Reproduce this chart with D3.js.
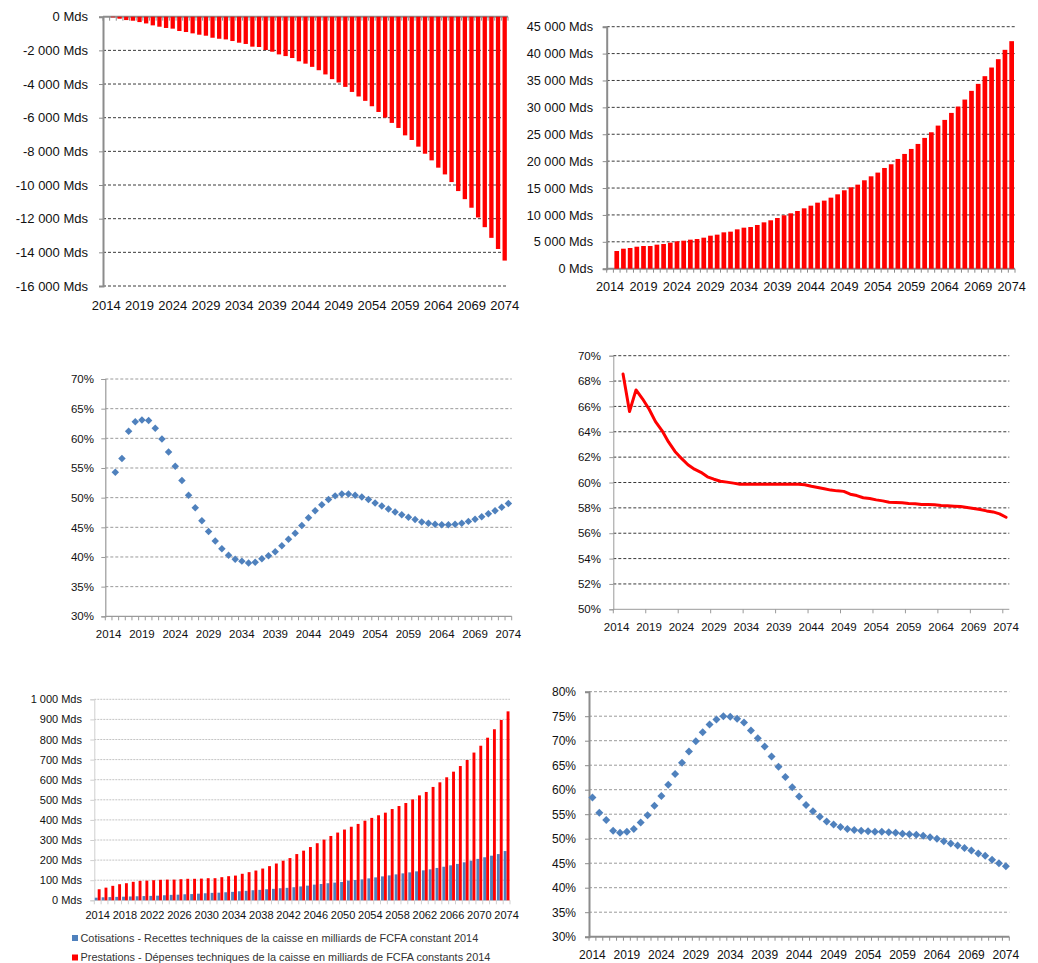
<!DOCTYPE html>
<html>
<head>
<meta charset="utf-8">
<script src="https://cdn.jsdelivr.net/npm/d3@7"></script>
<style>
  html, body { margin: 0; padding: 0; background: #fff; }
  svg { display: block; font-family: "Liberation Sans", Arial, sans-serif; }
</style>
</head>
<body>
<svg id="chart" width="1038" height="963"></svg>
<script>
// ---- categories ----
const years = d3.range(2014, 2075);
const labelYears5 = [2014, 2019, 2024, 2029, 2034, 2039, 2044, 2049, 2054, 2059, 2064, 2069, 2074];
const labelYears4 = [2014, 2018, 2022, 2026, 2030, 2034, 2038, 2042, 2046, 2050, 2054, 2058, 2062, 2066, 2070, 2074];

// ---- series (milliards FCFA / %) ----
const soldeCumule = [0, -40, -120, -200, -240, -320, -400, -515, -595, -670, -710, -850, -910, -990, -1070,
  -1130, -1250, -1310, -1350, -1445, -1545, -1620, -1780, -1800, -1980, -2080, -2240, -2340, -2455, -2650,
  -2790, -2980, -3180, -3430, -3710, -3910, -4170, -4470, -4740, -5000, -5320, -5660, -5995, -6310, -6610,
  -7050, -7325, -7720, -8140, -8535, -8970, -9370, -9825, -10360, -10840, -11350, -11930, -12505, -13140,
  -13800, -14490];

const montantCumule = [null, 3290, 3720, 3850, 4090, 4220, 4220, 4470, 4590, 4840, 5090, 5210, 5400, 5520,
  5770, 6140, 6330, 6760, 6890, 7320, 7630, 7750, 8130, 8620, 9000, 9430, 9930, 10300, 10730, 11230, 11720,
  12280, 12660, 13210, 13830, 14580, 15140, 15630, 16440, 17180, 17870, 18730, 19420, 20410, 21340, 22270,
  23200, 24320, 25370, 26610, 27670, 28970, 30150, 31450, 33070, 34370, 35800, 37410, 38960, 40700, 42310];

const ratioA = [null, 54.3, 56.6, 61.2, 62.8, 63.1, 63.0, 61.7, 59.9, 57.7, 55.3, 52.9, 50.4, 48.3, 46.1, 44.3,
  42.7, 41.4, 40.3, 39.6, 39.3, 39.0, 39.1, 39.7, 40.2, 40.9, 41.9, 43.0, 44.0, 45.3, 46.6, 47.8, 48.8, 49.7,
  50.3, 50.6, 50.6, 50.4, 50.1, 49.7, 49.1, 48.6, 48.1, 47.6, 47.1, 46.7, 46.3, 45.9, 45.7, 45.5, 45.45, 45.45,
  45.5, 45.7, 46.0, 46.35, 46.8, 47.3, 47.8, 48.4, 49.0];

const tauxRemplacement = [null, 68.55, 65.6, 67.3, 66.6, 65.8, 64.8, 64.1, 63.2, 62.45, 61.9, 61.4, 61.05, 60.8,
  60.45, 60.26, 60.1, 60.03, 59.95, 59.87, 59.87, 59.87, 59.87, 59.87, 59.87, 59.87, 59.87, 59.87, 59.87, 59.82,
  59.7, 59.6, 59.5, 59.4, 59.34, 59.3, 59.08, 58.97, 58.8, 58.74, 58.63, 58.55, 58.45, 58.42, 58.4, 58.34, 58.32,
  58.26, 58.26, 58.24, 58.18, 58.16, 58.13, 58.1, 58.03, 57.95, 57.87, 57.76, 57.68, 57.53, 57.26];

const cotisations = [13, 15, 16, 17, 18, 19, 20, 21, 22, 23, 25, 27, 28, 30, 31, 33, 35, 37, 38, 40, 42, 45, 47,
  50, 52, 55, 57, 60, 62, 65, 69, 73, 78, 81, 85, 88, 91, 98, 101, 104, 109, 114, 119, 124, 129, 134, 139, 144,
  149, 154, 161, 167, 174, 181, 189, 197, 206, 214, 222, 230, 245];

const prestations = [55, 63, 72, 80, 85, 92, 97, 98, 100, 102, 103, 103, 105, 107, 107, 108, 110, 110, 115, 120,
  123, 132, 140, 148, 158, 170, 183, 197, 210, 230, 247, 265, 284, 302, 320, 337, 352, 366, 380, 396, 410, 423,
  436, 454, 469, 484, 502, 522, 539, 564, 587, 612, 640, 668, 698, 735, 769, 809, 851, 897, 940];

const ratioB = [58.4, 55.3, 53.8, 51.6, 51.2, 51.4, 52.0, 53.3, 54.8, 56.7, 58.7, 61.0, 63.2, 65.5, 67.8, 69.9,
  71.7, 73.3, 74.35, 74.97, 74.9, 74.5, 73.7, 72.1, 70.5, 68.8, 66.8, 64.7, 62.6, 60.5, 58.6, 56.9, 55.6, 54.5,
  53.5, 52.9, 52.4, 52.0, 51.8, 51.6, 51.5, 51.4, 51.4, 51.3, 51.2, 51.0, 50.9, 50.8, 50.6, 50.3, 50.0, 49.5,
  49.0, 48.6, 48.1, 47.6, 47.0, 46.5, 45.7, 45.0, 44.4];

// ---- tick values ----
const ticksSolde = [0, -2000, -4000, -6000, -8000, -10000, -12000, -14000, -16000];
const ticksMontant = [0, 5000, 10000, 15000, 20000, 25000, 30000, 35000, 40000, 45000];
const ticksRatioA = [30, 35, 40, 45, 50, 55, 60, 65, 70];
const ticksTaux = [50, 52, 54, 56, 58, 60, 62, 64, 66, 68, 70];
const ticksFlux = [0, 100, 200, 300, 400, 500, 600, 700, 800, 900, 1000];
const ticksRatioB = [30, 35, 40, 45, 50, 55, 60, 65, 70, 75, 80];

const legendItems = [
  { label: "Cotisations - Recettes techniques de la caisse en milliards de FCFA constant 2014", color: "#4F81BD" },
  { label: "Prestations - Dépenses techniques de la caisse en milliards de FCFA constants 2014", color: "#FF0000" }
];

// ---- formatting ----
const fr = d3.formatLocale({ decimal: ",", thousands: " ", grouping: [3], currency: ["", ""], minus: "-" });
const fmtMds = d => fr.format(",")(d) + " Mds";
const fmtPct = d => d + "%";

const RED = "#FF0000", BLUE = "#4F81BD", TXT = "#111";
const svg = d3.select("#chart");
svg.append("rect").attr("width", 1038).attr("height", 963).attr("fill", "#fff");

// Builds the scales, gridlines, axes and category labels of one panel
function panel(o) {
  const g = svg.append("g");
  const x = d3.scaleBand().domain(years).range([o.left, o.right])
    .paddingInner(o.pad || 0).paddingOuter((o.pad || 0) / 2);
  const y = d3.scaleLinear().domain(o.yDomain).range([o.bottom, o.top]);
  const cx = d => x(d) + x.bandwidth() / 2;

  // horizontal gridlines
  g.append("g").selectAll("line").data(o.grid).join("line")
    .attr("x1", o.left).attr("x2", o.right)
    .attr("y1", d => y(d)).attr("y2", d => y(d))
    .attr("stroke", o.gridColor).attr("stroke-width", 1)
    .attr("stroke-dasharray", o.gridDash);

  // value axis
  const ya = g.append("g").attr("transform", `translate(${o.left},0)`)
    .call(d3.axisLeft(y).tickValues(o.yTicks).tickFormat(o.fmt).tickSize(4).tickPadding(o.yPad));
  ya.select(".domain").attr("stroke", o.axisColor).attr("stroke-width", o.axisWidth);
  ya.selectAll(".tick line").attr("stroke", o.axisColor);
  ya.selectAll("text").attr("fill", TXT).style("font-size", o.fs + "px");

  // category axis line and boundary ticks
  const ay = y(o.axisAt);
  g.append("line").attr("x1", o.left).attr("x2", o.right).attr("y1", ay).attr("y2", ay)
    .attr("stroke", o.axisColor).attr("stroke-width", o.axisWidth);
  const step = x.step();
  const bounds = d3.range(0, years.length + 1, o.tickEvery).map(i => o.left + i * step);
  g.append("g").selectAll("line").data(bounds).join("line")
    .attr("x1", d => d).attr("x2", d => d).attr("y1", ay).attr("y2", ay + 4)
    .attr("stroke", o.axisColor).attr("stroke-width", 1);

  // category labels
  const xa = g.append("g").attr("transform", `translate(0,${o.labelY - 0.35 * o.fs})`)
    .call(d3.axisBottom(x).tickValues(o.labels).tickSize(0).tickPadding(0));
  xa.select(".domain").remove();
  xa.selectAll("text").attr("fill", TXT).style("font-size", o.fs + "px");

  return { g, x, y, cx };
}

// ---- top left: cumulative balance ----
{
  const p = panel({ left: 103, right: 508, top: 16.7, bottom: 286, yDomain: [-16000, 0], pad: 0.35,
    grid: ticksSolde.filter(d => d !== 0), gridColor: "#3a3a3a", gridDash: "3,2",
    yTicks: ticksSolde, fmt: fmtMds, yPad: 11, fs: 13, axisColor: "#8c8c8c", axisWidth: 2,
    axisAt: 0, tickEvery: 1, labels: labelYears5, labelY: 305 });
  p.g.append("g").selectAll("rect").data(years.map((yr, i) => ({ yr, v: soldeCumule[i] }))).join("rect")
    .attr("x", d => p.x(d.yr)).attr("width", p.x.bandwidth())
    .attr("y", p.y(0)).attr("height", d => p.y(d.v) - p.y(0))
    .attr("fill", RED);
}

// ---- top right: cumulative amount ----
{
  const p = panel({ left: 606.7, right: 1015, top: 26.7, bottom: 268.7, yDomain: [0, 45000], pad: 0.3,
    grid: ticksMontant.filter(d => d !== 0), gridColor: "#3a3a3a", gridDash: "3,2",
    yTicks: ticksMontant, fmt: fmtMds, yPad: 9.7, fs: 12.7, axisColor: "#8c8c8c", axisWidth: 2,
    axisAt: 0, tickEvery: 1, labels: labelYears5, labelY: 286.7 });
  p.g.append("g").selectAll("rect")
    .data(years.map((yr, i) => ({ yr, v: montantCumule[i] })).filter(d => d.v != null)).join("rect")
    .attr("x", d => p.x(d.yr)).attr("width", p.x.bandwidth())
    .attr("y", d => p.y(d.v)).attr("height", d => p.y(0) - p.y(d.v))
    .attr("fill", RED);
}

// ---- middle left: ratio (diamonds) ----
{
  const p = panel({ left: 105.3, right: 511.7, top: 379, bottom: 616.3, yDomain: [30, 70],
    grid: ticksRatioA.filter(d => d !== 30), gridColor: "#9a9a9a", gridDash: "3,2",
    yTicks: ticksRatioA, fmt: fmtPct, yPad: 7.3, fs: 11.5, axisColor: "#9a9a9a", axisWidth: 1.2,
    axisAt: 30, tickEvery: 1, labels: labelYears5, labelY: 634 });
  p.g.append("g").selectAll("path")
    .data(years.map((yr, i) => ({ yr, v: ratioA[i] })).filter(d => d.v != null)).join("path")
    .attr("d", d3.symbol(d3.symbolSquare, 28)())
    .attr("transform", d => `translate(${p.cx(d.yr)},${p.y(d.v)}) rotate(45)`)
    .attr("fill", BLUE);
}

// ---- middle right: replacement rate (line) ----
{
  const p = panel({ left: 613.3, right: 1009.3, top: 355.7, bottom: 609.3, yDomain: [50, 70],
    grid: ticksTaux.filter(d => d !== 50), gridColor: "#3a3a3a", gridDash: "3,2",
    yTicks: ticksTaux, fmt: fmtPct, yPad: 8.3, fs: 11.5, axisColor: "#9a9a9a", axisWidth: 1,
    axisAt: 50, tickEvery: 5, labels: labelYears5, labelY: 627.3 });
  const line = d3.line().defined(d => d.v != null).x(d => p.cx(d.yr)).y(d => p.y(d.v));
  p.g.append("path").datum(years.map((yr, i) => ({ yr, v: tauxRemplacement[i] })))
    .attr("d", line).attr("fill", "none").attr("stroke", RED)
    .attr("stroke-width", 3).attr("stroke-linejoin", "round").attr("stroke-linecap", "round");
}

// ---- bottom left: contributions vs benefits ----
{
  const p = panel({ left: 94.3, right: 510, top: 699.3, bottom: 900.3, yDomain: [0, 1000], pad: 0.15,
    grid: ticksFlux.filter(d => d !== 0), gridColor: "#c4c4c4", gridDash: "2,1",
    yTicks: ticksFlux, fmt: fmtMds, yPad: 8.3, fs: 11, axisColor: "#cfcfcf", axisWidth: 1,
    axisAt: 0, tickEvery: 1, labels: labelYears4, labelY: 915 });
  const series = [cotisations, prestations];
  const sub = d3.scaleBand().domain([0, 1]).range([0, p.x.bandwidth()]);
  const rows = years.map((yr, i) => ({ yr, vals: series.map(s => s[i]) }));
  p.g.append("g").selectAll("g").data(rows).join("g")
    .attr("transform", d => `translate(${p.x(d.yr)},0)`)
    .selectAll("rect").data(d => d.vals.map((v, k) => ({ v, k }))).join("rect")
    .attr("x", d => sub(d.k)).attr("width", sub.bandwidth())
    .attr("y", d => p.y(d.v)).attr("height", d => p.y(0) - p.y(d.v))
    .attr("fill", d => legendItems[d.k].color);

  const lg = svg.append("g").selectAll("g").data(legendItems).join("g")
    .attr("transform", (d, i) => `translate(72,${938 + i * 19.5})`);
  lg.append("rect").attr("x", 0).attr("y", -3).attr("width", 6).attr("height", 6).attr("fill", d => d.color);
  lg.append("text").attr("x", 8.5).attr("y", 0).attr("dy", "0.35em")
    .attr("fill", "#333").style("font-size", "10.9px").text(d => d.label);
}

// ---- bottom right: ratio (diamonds) ----
{
  const p = panel({ left: 589, right: 1009.3, top: 691.7, bottom: 936.7, yDomain: [30, 80],
    grid: ticksRatioB.filter(d => d !== 30), gridColor: "#9a9a9a", gridDash: "3,2",
    yTicks: ticksRatioB, fmt: fmtPct, yPad: 9, fs: 12, axisColor: "#8c8c8c", axisWidth: 2,
    axisAt: 30, tickEvery: 1, labels: labelYears5, labelY: 955 });
  p.g.append("g").selectAll("path")
    .data(years.map((yr, i) => ({ yr, v: ratioB[i] }))).join("path")
    .attr("d", d3.symbol(d3.symbolSquare, 32)())
    .attr("transform", d => `translate(${p.cx(d.yr)},${p.y(d.v)}) rotate(45)`)
    .attr("fill", BLUE);
}
</script>
</body>
</html>
